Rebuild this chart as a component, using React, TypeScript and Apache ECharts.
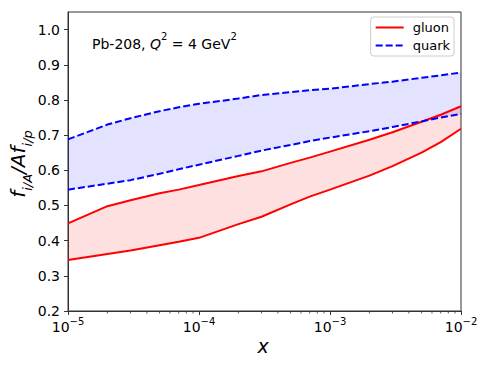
import React, { useEffect, useRef } from "react";
import * as echarts from "echarts";

const xs = [1e-5, 2e-5, 3e-5, 5e-5, 7e-5, 1e-4, 2e-4, 3e-4, 5e-4, 7e-4, 1e-3, 2e-3, 3e-3, 5e-3, 7e-3, 1e-2];
const gluonUpper = [0.449, 0.498, 0.515, 0.535, 0.545, 0.558, 0.584, 0.597, 0.621, 0.636, 0.653, 0.687, 0.708, 0.738, 0.758, 0.782];
const gluonLower = [0.345, 0.362, 0.372, 0.387, 0.397, 0.408, 0.447, 0.468, 0.503, 0.525, 0.545, 0.585, 0.612, 0.65, 0.68, 0.718];
const quarkUpper = [0.688, 0.73, 0.748, 0.768, 0.779, 0.789, 0.804, 0.814, 0.822, 0.828, 0.832, 0.845, 0.852, 0.863, 0.87, 0.878];
const quarkLower = [0.545, 0.562, 0.572, 0.59, 0.603, 0.616, 0.641, 0.656, 0.672, 0.683, 0.693, 0.711, 0.723, 0.739, 0.75, 0.76];
const xMajorTicks = [1e-5, 1e-4, 1e-3, 1e-2];
const xMinorTicks = [
  2e-5, 3e-5, 4e-5, 5e-5, 6e-5, 7e-5, 8e-5, 9e-5,
  2e-4, 3e-4, 4e-4, 5e-4, 6e-4, 7e-4, 8e-4, 9e-4,
  2e-3, 3e-3, 4e-3, 5e-3, 6e-3, 7e-3, 8e-3, 9e-3,
];
const yTicks = [0.2, 0.3, 0.4, 0.5, 0.6, 0.7, 0.8, 0.9, 1.0];

const FONT = "DejaVu Sans";
const SUP: Record<string, string> = { "-": "\u2212" };

function pairs(arr: number[]) {
  return xs.map((x, i) => [x, arr[i]]);
}

function bandSeries(upper: number[], lower: number[], fill: string) {
  return {
    type: "custom",
    silent: true,
    clip: true,
    data: [[xs[0], lower[0]]],
    renderItem: (_p: any, api: any) => {
      const pts: number[][] = [];
      xs.forEach((x, i) => pts.push(api.coord([x, upper[i]])));
      for (let i = xs.length - 1; i >= 0; i--) pts.push(api.coord([xs[i], lower[i]]));
      return { type: "polygon", shape: { points: pts }, style: { fill, stroke: "none" } };
    },
  };
}

function lineSeries(name: string, arr: number[], color: string, dashed: boolean) {
  return {
    type: "line",
    name,
    data: pairs(arr),
    symbol: "none",
    lineStyle: { color, width: 2, type: dashed ? [7, 3] : "solid" },
    itemStyle: { color },
    silent: true,
  };
}

export default function App() {
  const ref = useRef<HTMLDivElement>(null);
  useEffect(() => {
    document.body.style.margin = "0";
    const chart = echarts.init(ref.current!, null, { renderer: "svg" });
    chart.setOption({
      animation: false,
      grid: { left: 68, right: 29, top: 12, bottom: 57, show: true, borderColor: "#333", borderWidth: 1 },
      xAxis: {
        type: "log",
        logBase: 10,
        min: 1e-5,
        max: 1e-2,
        axisLine: { show: true, lineStyle: { color: "#333", width: 1 } },
        axisTick: { show: true, length: 4, inside: false, customValues: xMajorTicks, lineStyle: { color: "#333" } },
        splitLine: { show: false },
        minorTick: { show: false },
        axisLabel: {
          customValues: xMajorTicks,
          margin: 5,
          formatter: (v: number) => {
            const e = Math.round(Math.log10(v));
            const s = String(e).split("").map((c) => SUP[c] || c).join("");
            return `{b|10}{s|${s}}`;
          },
          rich: {
            b: { fontSize: 14, fontFamily: FONT, color: "#000", lineHeight: 18, verticalAlign: "bottom" },
            s: { fontSize: 10, fontFamily: FONT, color: "#000", lineHeight: 10, verticalAlign: "top" },
          },
        },
      },
      yAxis: {
        type: "value",
        min: 0.2,
        max: 1.05,
        axisLine: { show: true, lineStyle: { color: "#333", width: 1 } },
        axisTick: { show: true, length: 4, inside: false, customValues: yTicks, lineStyle: { color: "#333" } },
        splitLine: { show: false },
        axisLabel: {
          customValues: yTicks,
          margin: 8,
          fontSize: 14,
          fontFamily: FONT,
          color: "#000",
          formatter: (v: number) => v.toFixed(1),
        },
      },
      legend: {
        data: ["gluon", "quark"],
        orient: "vertical",
        right: 36,
        top: 17,
        itemWidth: 28,
        itemHeight: 14,
        itemGap: 5,
        padding: [4, 4, 4, 4],
        borderColor: "#ccc",
        borderWidth: 1,
        borderRadius: 3,
        backgroundColor: "rgba(255,255,255,0.8)",
        itemStyle: { color: "rgba(0,0,0,0)", borderColor: "rgba(0,0,0,0)", borderWidth: 0, opacity: 0 },
        textStyle: { fontSize: 13, fontFamily: FONT, color: "#000", padding: [0, 0, 0, 4] },
      },
      graphic: [
        {
          type: "text",
          left: 92,
          top: 31,
          style: {
            text: "{r|Pb-208, }{i|Q}{s|2}{r| = 4 GeV}{s|2}",
            rich: {
              r: { fontSize: 14, fontFamily: FONT, fill: "#000", lineHeight: 20, verticalAlign: "bottom" },
              i: { fontSize: 14, fontFamily: FONT, fontStyle: "italic", fill: "#000", lineHeight: 20, verticalAlign: "bottom" },
              s: { fontSize: 10, fontFamily: FONT, fill: "#000", lineHeight: 12, verticalAlign: "top" },
            },
          },
        },
        {
          type: "text",
          x: 263,
          y: 346,
          style: {
            text: "x",
            fontSize: 19,
            fontFamily: FONT,
            fontStyle: "italic",
            fill: "#000",
            align: "center",
            verticalAlign: "middle",
          },
        },
        {
          type: "text",
          x: 21,
          y: 164,
          rotation: Math.PI / 2,
          style: {
            text: "{m|f}{u|i/A}{m|/Af}{u|i/p}",
            align: "center",
            verticalAlign: "middle",
            rich: {
              m: { fontSize: 20, fontFamily: FONT, fontStyle: "italic", fill: "#000", lineHeight: 26, verticalAlign: "top" },
              u: { fontSize: 13, fontFamily: FONT, fontStyle: "italic", fill: "#000", lineHeight: 13, verticalAlign: "bottom" },
            },
          },
        },
      ],
      series: [
        bandSeries(gluonUpper, gluonLower, "rgba(255,0,0,0.12)"),
        bandSeries(quarkUpper, quarkLower, "rgba(0,0,255,0.11)"),
        {
          type: "custom",
          silent: true,
          clip: false,
          data: xMinorTicks.map((x) => [x, 0.2]),
          renderItem: (_p: any, api: any) => {
            const p = api.coord([api.value(0), api.value(1)]);
            return {
              type: "line",
              shape: { x1: p[0], y1: p[1], x2: p[0], y2: p[1] + 2.5 },
              style: { stroke: "#333", lineWidth: 0.8 },
            };
          },
        },
        lineSeries("gluon", gluonUpper, "#ff0000", false),
        lineSeries("gluon", gluonLower, "#ff0000", false),
        lineSeries("quark", quarkUpper, "#0000ff", true),
        lineSeries("quark", quarkLower, "#0000ff", true),
      ],
    });
    return () => chart.dispose();
  }, []);
  return <div ref={ref} style={{ width: 490, height: 368 }} />;
}
